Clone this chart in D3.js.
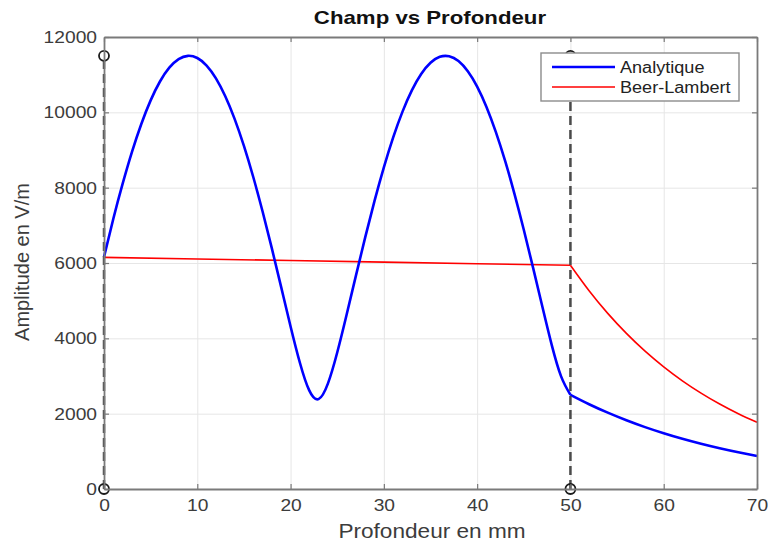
<!DOCTYPE html>
<html>
<head>
<meta charset="utf-8">
<script src="https://cdn.jsdelivr.net/npm/d3@7"></script>
<style>
  html, body { margin: 0; padding: 0; background: #fff; }
  svg { display: block; font-family: "Liberation Sans", Arial, sans-serif; }
</style>
</head>
<body>
<svg id="chart" width="768" height="544"></svg>
<script>
// ---- data ----
const xTicks = [0, 10, 20, 30, 40, 50, 60, 70];
const yTicks = [0, 2000, 4000, 6000, 8000, 10000, 12000];

// Analytique, inside the medium (0..50 mm, 1 mm steps)
const depthIn = [0,1,2,3,4,5,6,7,8,9,10,11,12,13,14,15,16,17,18,19,20,21,22,23,24,25,
                 26,27,28,29,30,31,32,33,34,35,36,37,38,39,40,41,42,43,44,45,46,47,48,49,50];
const analytiqueIn = [6160,7175,8106,8951,9692,10318,10819,11185,11414,11500,11442,11242,10902,10427,
                      9827,9108,8283,7368,6380,5352,4316,3352,2617,2387,2798,3624,4621,5659,6681,
                      7649,8539,9334,10019,10583,11018,11317,11474,11489,11360,11090,10683,10144,
                      9483,8709,7837,6883,5870,4831,3820,2990,2500];
// Analytique, beyond 50 mm
const depthOut = [50,52,54,56,58,60,62,64,66,68,70];
const analytiqueOut = [2500,2251,2027,1825,1643,1480,1332,1200,1080,973,876];

// Beer-Lambert
const depthBLIn = [0,10,20,30,40,50];
const beerLambertIn = [6150,6108,6066,6024,5982,5940];
const beerLambertOut = [5940,5263,4663,4131,3660,3243,2873,2546,2255,1998,1771];

// boundary markers
const markerDepths = [0, 50];
const markerLevels = [0, 11500];

const seriesNames = ["Analytique", "Beer-Lambert"];
const seriesColors = ["#0000ff", "#ff0000"];

// ---- layout ----
const svg = d3.select("#chart");
const L = 104, R = 757, T = 37, B = 489;
const SX = 1.13; // horizontal stretch of the reference text

const x = d3.scaleLinear().domain([0, 70]).range([L, R]);
const y = d3.scaleLinear().domain([0, 12000]).range([B, T]);

// grid
svg.append("g").attr("transform", `translate(0,${B})`)
  .call(d3.axisBottom(x).tickValues(xTicks).tickSize(-(B - T)).tickFormat(""))
  .call(g => g.select(".domain").remove())
  .call(g => g.selectAll("line").attr("stroke", "#e6e6e6").attr("stroke-width", 1));
svg.append("g").attr("transform", `translate(${L},0)`)
  .call(d3.axisLeft(y).tickValues(yTicks).tickSize(-(R - L)).tickFormat(""))
  .call(g => g.select(".domain").remove())
  .call(g => g.selectAll("line").attr("stroke", "#e6e6e6").attr("stroke-width", 1));

// lines
const line = d3.line().x(d => x(d[0])).y(d => y(d[1])).curve(d3.curveNatural);
const zip = (a, b) => a.map((v, i) => [v, b[i]]);

const plot = svg.append("g");
plot.append("path").datum(zip(depthBLIn, beerLambertIn))
  .attr("d", d3.line().x(d => x(d[0])).y(d => y(d[1])))
  .attr("fill", "none").attr("stroke", seriesColors[1]).attr("stroke-width", 1.6);
plot.append("path").datum(zip(depthOut, beerLambertOut))
  .attr("d", line).attr("fill", "none").attr("stroke", seriesColors[1]).attr("stroke-width", 1.6);
plot.append("path").datum(zip(depthIn, analytiqueIn))
  .attr("d", line).attr("fill", "none").attr("stroke", seriesColors[0]).attr("stroke-width", 2.6);
plot.append("path").datum(zip(depthOut, analytiqueOut))
  .attr("d", line).attr("fill", "none").attr("stroke", seriesColors[0]).attr("stroke-width", 2.6);

// dashed boundaries
plot.selectAll("line.bound").data(markerDepths).join("line")
  .attr("class", "bound")
  .attr("x1", d => x(d)).attr("x2", d => x(d))
  .attr("y1", y(markerLevels[0])).attr("y2", y(markerLevels[1]))
  .attr("stroke", "#4a4a4a").attr("stroke-width", 2.5).attr("stroke-dasharray", "9,5");

// circle markers
const pts = [];
markerDepths.forEach(dx => markerLevels.forEach(dy => pts.push([dx, dy])));
plot.selectAll("circle").data(pts).join("circle")
  .attr("cx", d => x(d[0])).attr("cy", d => y(d[1])).attr("r", 5)
  .attr("fill", "none").attr("stroke", "#1a1a1a").attr("stroke-width", 1.8);

// axes
const axisColor = "#7a7a7a";
const textColor = "#3c3c3c";
const tickFont = 17;

const gx = svg.append("g").attr("transform", `translate(0,${B})`)
  .call(d3.axisBottom(x).tickValues(xTicks).tickSizeInner(-5).tickSizeOuter(0).tickPadding(10));
const gy = svg.append("g").attr("transform", `translate(${L},0)`)
  .call(d3.axisLeft(y).tickValues(yTicks).tickSizeInner(-5).tickSizeOuter(0).tickPadding(7).tickFormat(d3.format("d")));
const gxt = svg.append("g").attr("transform", `translate(0,${T})`)
  .call(d3.axisTop(x).tickValues(xTicks).tickSizeInner(-5).tickSizeOuter(0).tickFormat(""));
const gyr = svg.append("g").attr("transform", `translate(${R},0)`)
  .call(d3.axisRight(y).tickValues(yTicks).tickSizeInner(-5).tickSizeOuter(0).tickFormat(""));
[gx, gy, gxt, gyr].forEach(g => {
  g.select(".domain").attr("stroke", axisColor).attr("stroke-width", 1.8);
  g.selectAll(".tick line").attr("stroke", axisColor).attr("stroke-width", 1.2);
  g.selectAll("text").attr("fill", textColor).attr("font-size", tickFont)
    .attr("font-family", "'Liberation Sans', Arial, sans-serif");
});

// title and labels
svg.append("text").attr("class", "stretch").attr("data-sx", 1.17).attr("x", 430).attr("y", 24)
  .attr("text-anchor", "middle").attr("font-size", 19).attr("font-weight", "bold")
  .attr("fill", "#111").text("Champ vs Profondeur");
svg.append("text").attr("class", "stretch").attr("x", 432).attr("y", 538)
  .attr("text-anchor", "middle").attr("font-size", 20)
  .attr("fill", textColor).text("Profondeur en mm");
svg.append("text").attr("transform", `translate(29,262) rotate(-90)`)
  .attr("text-anchor", "middle").attr("font-size", 20)
  .attr("fill", textColor).text("Amplitude en V/m");

// legend
const lg = svg.append("g");
lg.append("rect").attr("x", 541).attr("y", 53).attr("width", 198).attr("height", 48)
  .attr("fill", "#fff").attr("stroke", "#8c8c8c").attr("stroke-width", 1.4);
seriesNames.forEach((name, i) => {
  const cy = 67 + i * 20;
  lg.append("line").attr("x1", 552).attr("x2", 615).attr("y1", cy).attr("y2", cy)
    .attr("stroke", seriesColors[i]).attr("stroke-width", i === 0 ? 2.6 : 1.6);
  lg.append("text").attr("class", "stretch").attr("x", 620).attr("y", cy)
    .attr("dy", "0.35em").attr("font-size", 16).attr("fill", "#222").text(name);
});

// horizontal stretch of horizontal texts to mimic the reference
svg.selectAll(".tick text, text.stretch").each(function () {
  const w = this.getComputedTextLength();
  const s = +(this.getAttribute("data-sx") || SX);
  if (w > 0) d3.select(this).attr("textLength", w * s).attr("lengthAdjust", "spacingAndGlyphs");
});
</script>
</body>
</html>
